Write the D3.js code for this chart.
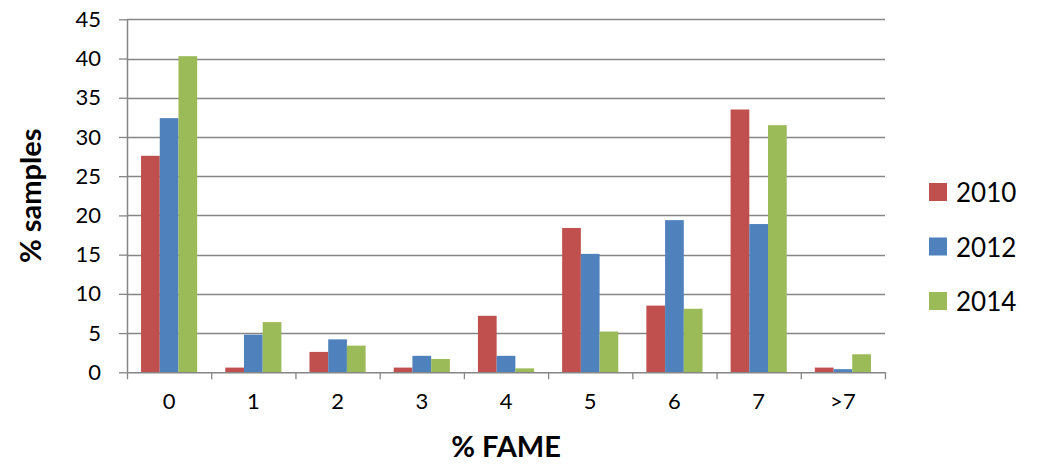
<!DOCTYPE html>
<html><head><meta charset="utf-8">
<script src="https://cdn.jsdelivr.net/npm/d3@7"></script>
<style>
html,body{margin:0;padding:0;background:#fff;}
svg{display:block;font-family:Lato, "Open Sans", sans-serif;}
</style></head>
<body><svg id="chart" width="1040" height="464"></svg>
<script>
const categories = ["0","1","2","3","4","5","6","7",">7"];
const seriesNames = ["2010","2012","2014"];
const values2010 = [27.6, 0.6, 2.6, 0.6, 7.2, 18.4, 8.5, 33.5, 0.6];
const values2012 = [32.4, 4.8, 4.2, 2.1, 2.1, 15.1, 19.4, 18.9, 0.4];
const values2014 = [40.3, 6.4, 3.4, 1.7, 0.5, 5.2, 8.1, 31.5, 2.3];
const colors = ["#C0504D", "#4F81BD", "#9BBB59"];
const yTicks = [0,5,10,15,20,25,30,35,40,45];
const yTitle = "% samples";
const xTitle = "% FAME";

const series = [values2010, values2012, values2014];
const svg = d3.select("#chart");
const m = {left:127, right:885, top:19.3, bottom:372.3};
const axisColor = "#868686";

const x = d3.scaleBand().domain(categories).range([m.left, m.right]).paddingInner(0).paddingOuter(0);
const x1 = d3.scaleBand().domain(seriesNames).range([0, x.bandwidth()]).paddingInner(0).paddingOuter(0.75);
const y = d3.scaleLinear().domain([0,45]).range([m.bottom, m.top]);

// gridlines
svg.append("g").selectAll("line").data(yTicks.filter(d=>d>0)).join("line")
  .attr("x1", m.left).attr("x2", m.right)
  .attr("y1", d=>Math.round(y(d))+0.5).attr("y2", d=>Math.round(y(d))+0.5)
  .attr("stroke", axisColor).attr("stroke-width", 1.3);

// bars
const groups = svg.append("g").selectAll("g").data(categories).join("g")
  .attr("transform", d=>`translate(${x(d)},0)`);
groups.selectAll("rect").data((c,i)=>series.map((s,k)=>({name:seriesNames[k], v:s[i], k})))
  .join("rect")
  .attr("x", d=>x1(d.name)).attr("width", x1.bandwidth())
  .attr("y", d=>y(d.v)).attr("height", d=>y(0)-y(d.v))
  .attr("fill", d=>colors[d.k]);

// y axis
const yAxis = svg.append("g").attr("transform", `translate(${m.left},0)`)
  .call(d3.axisLeft(y).tickValues(yTicks).tickSize(8).tickPadding(18).tickSizeOuter(0));
yAxis.select(".domain").attr("stroke", axisColor).attr("stroke-width", 1.5);
yAxis.selectAll(".tick line").attr("stroke", axisColor).attr("stroke-width", 1.3);
yAxis.selectAll(".tick text").attr("font-size", 22).attr("fill", "#000").attr("font-family","Lato");

// x axis ticks at band boundaries
const xb = d3.scaleLinear().domain([0, categories.length]).range([m.left, m.right]);
const xAxisTicks = svg.append("g").attr("transform", `translate(0,${m.bottom})`)
  .call(d3.axisBottom(xb).tickValues(d3.range(categories.length+1)).tickFormat("").tickSize(7).tickSizeOuter(0));
xAxisTicks.select(".domain").attr("stroke", axisColor).attr("stroke-width", 1.5);
xAxisTicks.selectAll(".tick line").attr("stroke", axisColor).attr("stroke-width", 1.3);

// x labels
const xAxisLabels = svg.append("g").attr("transform", `translate(0,${m.bottom})`)
  .call(d3.axisBottom(x).tickSize(0).tickPadding(21));
xAxisLabels.select(".domain").remove();
xAxisLabels.selectAll(".tick text").attr("font-size", 22).attr("fill", "#000").attr("font-family","Lato");

// titles
svg.append("text").attr("x", (m.left+m.right)/2).attr("y", 457)
  .attr("text-anchor","middle").attr("font-size", 29).attr("font-weight","bold").text(xTitle);
svg.append("text").attr("transform", `translate(41,${(m.top+m.bottom)/2}) rotate(-90)`)
  .attr("text-anchor","middle").attr("font-size", 29).attr("font-weight","bold").text(yTitle);

// legend
const leg = svg.append("g").selectAll("g").data(seriesNames).join("g")
  .attr("transform", (d,i)=>`translate(929,${183 + i*54.5})`);
leg.append("rect").attr("width", 18).attr("height", 18).attr("fill", (d,i)=>colors[i]);
leg.append("text").attr("x", 27).attr("y", 19).attr("font-size", 26).attr("fill","#000").text(d=>d);
</script>
</body></html>
